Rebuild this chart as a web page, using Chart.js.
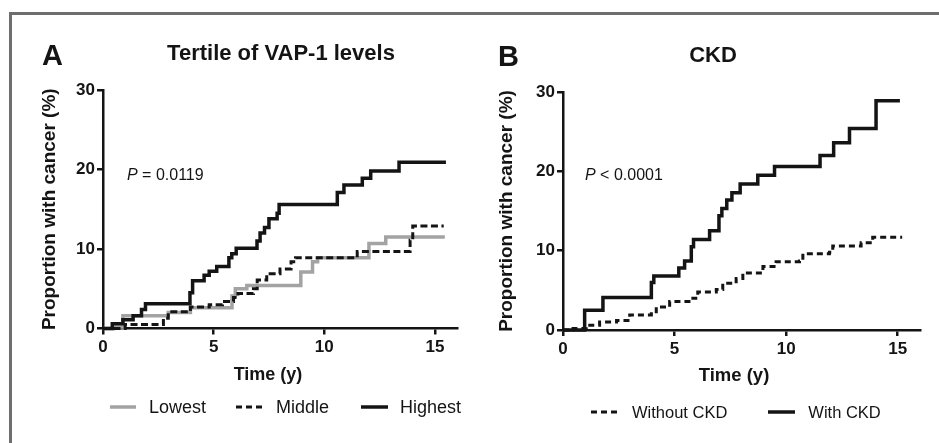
<!DOCTYPE html>
<html>
<head>
<meta charset="utf-8">
<script src="https://cdn.jsdelivr.net/npm/chart.js@4/dist/chart.umd.min.js"></script>
<style>
  html, body { margin: 0; padding: 0; background: #fff; }
  body { width: 939px; height: 443px; position: relative; overflow: hidden;
         font-family: "Liberation Sans", Arial, sans-serif; color: #141414; }
  .frame { position: absolute; left: 9px; top: 12px; width: 940px; height: 440px;
           border-top: 3px solid #6e6e6e; border-left: 3px solid #6e6e6e; }
  canvas { position: absolute; top: 0; }
  .txt { position: absolute; white-space: nowrap; line-height: 1; }
  .b { font-weight: bold; }
  .legend { position: absolute; display: flex; align-items: center; white-space: nowrap; line-height: 1; }
  .legend svg { display: block; }
</style>
</head>
<body>
<div class="frame"></div>
<canvas id="chartA" width="470" height="443" style="left:0"></canvas>
<canvas id="chartB" width="469" height="443" style="left:470px"></canvas>

<div class="txt b" style="left:42px; top:41px; font-size:29px;">A</div>
<div class="txt b" style="left:281px; top:42px; font-size:22px; transform:translateX(-50%);">Tertile of VAP-1 levels</div>
<div class="txt" style="left:127px; top:167px; font-size:16px;"><i>P</i> = 0.0119</div>
<div class="txt b" style="left:268px; top:365px; font-size:18px; transform:translateX(-50%);">Time (y)</div>

<div class="txt b" style="left:498px; top:42px; font-size:29px;">B</div>
<div class="txt b" style="left:713px; top:44px; font-size:22px; transform:translateX(-50%);">CKD</div>
<div class="txt" style="left:585px; top:167px; font-size:16px;"><i>P</i> &lt; 0.0001</div>
<div class="txt b" style="left:734px; top:366px; font-size:18.5px; transform:translateX(-50%);">Time (y)</div>

<div class="legend" style="left:110px; top:398px; font-size:18px;">
  <svg width="26" height="6"><line x1="0" y1="3" x2="26" y2="3" stroke="#a3a3a3" stroke-width="3.5"/></svg>
  <span style="margin-left:13px">Lowest</span>
  <svg width="28" height="6" style="margin-left:30px"><line x1="0" y1="3" x2="28" y2="3" stroke="#141414" stroke-width="3" stroke-dasharray="6,4"/></svg>
  <span style="margin-left:12px">Middle</span>
  <svg width="27" height="6" style="margin-left:32px"><line x1="0" y1="3" x2="27" y2="3" stroke="#141414" stroke-width="3.5"/></svg>
  <span style="margin-left:12px">Highest</span>
</div>
<div class="legend" style="left:591px; top:404px; font-size:16.5px;">
  <svg width="26" height="6"><line x1="0" y1="3" x2="26" y2="3" stroke="#141414" stroke-width="3" stroke-dasharray="6,4"/></svg>
  <span style="margin-left:15px">Without CKD</span>
  <svg width="27" height="6" style="margin-left:41px"><line x1="0" y1="3" x2="27" y2="3" stroke="#141414" stroke-width="3.5"/></svg>
  <span style="margin-left:13px">With CKD</span>
</div>

<script>
// Panel A: tertiles of VAP-1, cumulative proportion with cancer (%)
const lowestTime  = [0, 0.5, 0.9, 2.95, 3.95, 5.83, 5.98, 6.5, 8.94, 9.47, 9.7, 12.02, 12.78, 15.45];
const lowestValue = [0, 0.2, 1.6, 2.0, 2.6, 4.1, 5.0, 5.4, 7.1, 8.4, 8.9, 10.7, 11.5, 11.5];

const middleTime  = [0, 1.0, 2.73, 2.95, 3.95, 4.8, 5.4, 5.9, 6.1, 6.8, 6.97, 7.4, 8.0, 8.5, 8.7, 11.49, 13.88, 14.0, 15.4];
const middleValue = [0, 0.5, 1.3, 2.1, 2.7, 3.0, 3.4, 3.9, 4.4, 5.0, 6.1, 6.9, 7.5, 8.4, 8.9, 9.7, 11.1, 12.9, 12.9];

const highestTime  = [0, 0.42, 0.9, 1.36, 1.74, 1.92, 3.93, 4.05, 4.57, 4.8, 5.14, 5.69, 5.82, 6.02, 6.96, 7.1, 7.3, 7.5, 7.87, 7.96, 10.59, 10.89, 11.72, 12.1, 13.38, 15.5];
const highestValue = [0, 0.6, 1.1, 1.6, 2.4, 3.1, 4.5, 6.0, 6.7, 7.2, 7.8, 8.9, 9.4, 10.1, 11.0, 12.0, 12.7, 13.8, 14.5, 15.6, 17.1, 18.05, 18.9, 19.8, 20.9, 20.9];

// Panel B: with / without CKD
const noCkdTime  = [0, 0.45, 1.04, 1.64, 2.4, 2.99, 3.96, 4.18, 4.78, 5.82, 6.04, 6.87, 7.16, 7.76, 8.06, 8.96, 9.55, 10.6, 10.75, 11.94, 12.09, 13.2, 13.36, 13.88, 15.2];
const noCkdValue = [0, 0.2, 0.6, 1.0, 1.2, 1.9, 2.3, 2.9, 3.6, 4.0, 4.8, 5.1, 5.9, 6.5, 7.2, 8.0, 8.6, 8.7, 9.6, 9.8, 10.6, 10.6, 11.0, 11.7, 11.7];

const ckdTime  = [0, 0.97, 1.79, 3.96, 4.07, 5.19, 5.45, 5.75, 5.85, 6.57, 6.99, 7.12, 7.34, 7.57, 7.94, 8.73, 9.48, 11.52, 12.13, 12.84, 14.03, 15.1];
const ckdValue = [0, 2.5, 4.1, 6.0, 6.8, 7.8, 8.7, 10.5, 11.4, 12.5, 14.4, 15.3, 16.4, 17.3, 18.4, 19.5, 20.6, 22.0, 23.6, 25.4, 28.9, 28.9];

const xTicks = [0, 5, 10, 15];
const yTicks = [0, 10, 20, 30];
const yTitle = 'Proportion with cancer (%)';

const INK = '#141414';
const GREY = '#a3a3a3';
const FONT = '"Liberation Sans", Arial, sans-serif';

Chart.defaults.font.family = FONT;
Chart.defaults.color = INK;

function toPoints(times, values) {
  return times.map((t, i) => ({ x: t, y: values[i] }));
}

function stepSet(label, times, values, color, width, dash) {
  return {
    label,
    data: toPoints(times, values),
    stepped: true,
    borderColor: color,
    borderWidth: width,
    borderDash: dash || [],
    borderCapStyle: 'butt',
    borderJoinStyle: 'miter',
    pointRadius: 0,
    fill: false,
    clip: 4
  };
}

function makeChart(id, datasets, box) {
  const ctx = document.getElementById(id).getContext('2d');
  return new Chart(ctx, {
    type: 'line',
    data: { datasets },
    options: {
      responsive: false,
      animation: false,
      events: [],
      layout: { padding: { left: 0, top: box.top, right: box.right, bottom: 0 } },
      plugins: { legend: { display: false }, tooltip: { enabled: false } },
      scales: {
        x: {
          type: 'linear',
          min: 0,
          max: 16,
          afterFit: s => { s.height = box.xHeight; },
          afterBuildTicks: s => { s.ticks = xTicks.map(v => ({ value: v })); },
          ticks: { font: { size: 17, weight: 'bold' }, padding: 3, color: INK, maxRotation: 0 },
          grid: { drawOnChartArea: false, tickLength: 6, color: INK, lineWidth: 2.5 },
          border: { color: INK, width: 2.5 }
        },
        y: {
          type: 'linear',
          min: 0,
          max: 30,
          afterFit: s => { s.width = box.yWidth; },
          afterBuildTicks: s => { s.ticks = yTicks.map(v => ({ value: v })); },
          ticks: { font: { size: 17, weight: 'bold' }, padding: 2, color: INK },
          grid: { drawOnChartArea: false, tickLength: 6, color: INK, lineWidth: 2.5 },
          border: { color: INK, width: 2.5 },
          title: {
            display: true,
            text: yTitle,
            color: INK,
            font: { size: 19, weight: 'bold' },
            padding: { top: box.titlePad, bottom: 0 }
          }
        }
      }
    }
  });
}

// drawing order: dataset 0 ends up on top
makeChart('chartA', [
  stepSet('Highest', highestTime, highestValue, INK, 3.5),
  stepSet('Middle', middleTime, middleValue, INK, 3, [7, 3.5]),
  stepSet('Lowest', lowestTime, lowestValue, GREY, 3.5)
], { top: 90, right: 13, xHeight: 114.5, yWidth: 103, titlePad: 38.5 });

makeChart('chartB', [
  stepSet('With CKD', ckdTime, ckdValue, INK, 3.5),
  stepSet('Without CKD', noCkdTime, noCkdValue, INK, 3, [6, 4])
], { top: 92, right: 19, xHeight: 113, yWidth: 93, titlePad: 25.5 });
</script>
</body>
</html>
